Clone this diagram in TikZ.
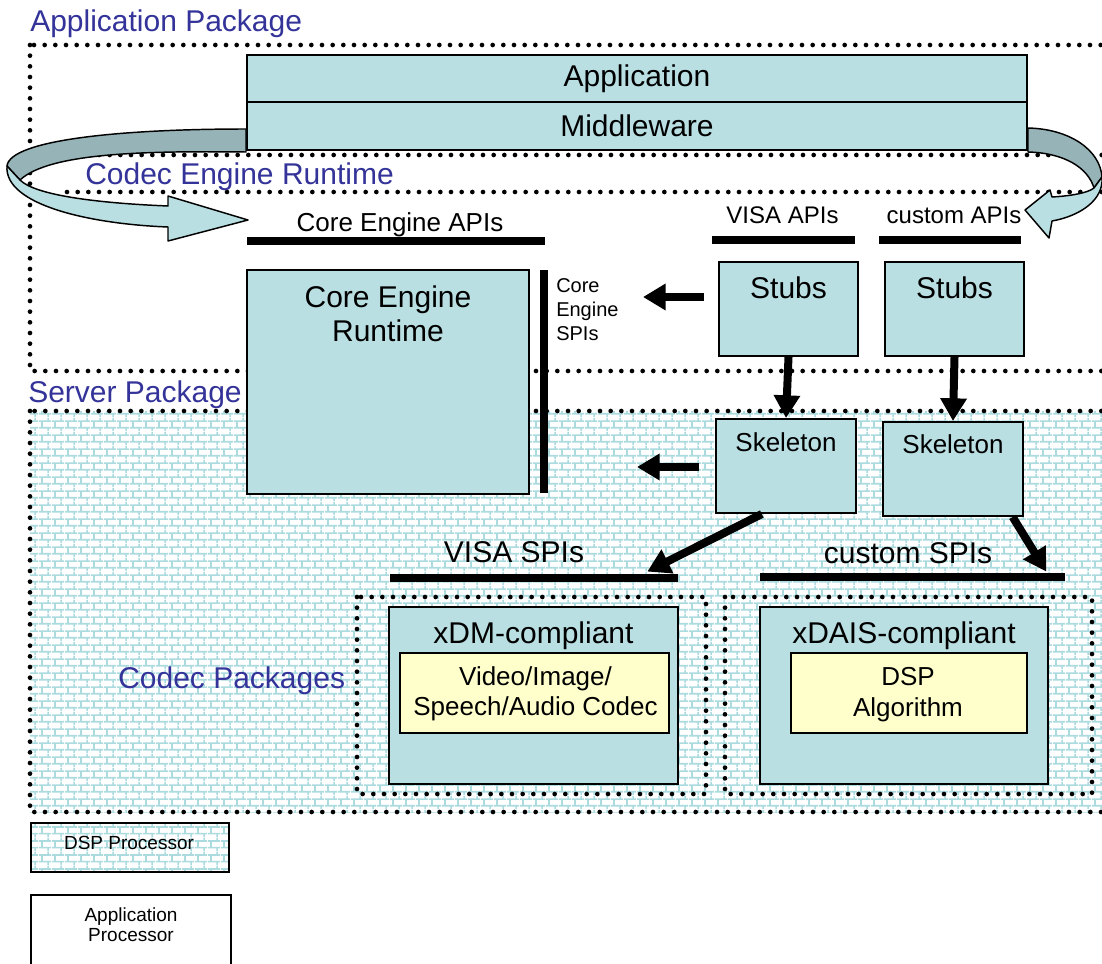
\documentclass[tikz,border=0pt]{standalone}
\usepackage{fontspec}
\setmainfont{Liberation Sans}
\usetikzlibrary{arrows.meta,calc,patterns}

% light brick wall used for the DSP side
\pgfdeclarepatternformonly{brickwall}{\pgfqpoint{0pt}{0pt}}{\pgfqpoint{9.75pt}{10.5pt}}{\pgfqpoint{9.75pt}{10.5pt}}{%
  \pgfsetlinewidth{1.3pt}%
  \pgfpathmoveto{\pgfqpoint{0pt}{2.625pt}}\pgfpathlineto{\pgfqpoint{9.75pt}{2.625pt}}%
  \pgfpathmoveto{\pgfqpoint{0pt}{7.875pt}}\pgfpathlineto{\pgfqpoint{9.75pt}{7.875pt}}%
  \pgfpathmoveto{\pgfqpoint{2.4375pt}{2.625pt}}\pgfpathlineto{\pgfqpoint{2.4375pt}{7.875pt}}%
  \pgfpathmoveto{\pgfqpoint{7.3125pt}{7.875pt}}\pgfpathlineto{\pgfqpoint{7.3125pt}{10.5pt}}%
  \pgfpathmoveto{\pgfqpoint{7.3125pt}{0pt}}\pgfpathlineto{\pgfqpoint{7.3125pt}{2.625pt}}%
  \pgfusepath{stroke}%
}

\newcommand\fsz[2]{\fontsize{#1}{#2}\selectfont}

\definecolor{boxfill}{RGB}{185,223,227}
\definecolor{ribbondark}{RGB}{150,180,184}
\definecolor{codecfill}{RGB}{255,255,204}
\definecolor{pkgblue}{RGB}{51,51,153}
\definecolor{mortar}{RGB}{172,219,223}

\tikzset{
  pkgdots/.style={line width=3.5pt, dash pattern=on 0pt off 8pt, line cap=round},
  box/.style={draw, line width=1.5pt, fill=boxfill, inner sep=0pt},
  codec/.style={draw, line width=1.5pt, fill=codecfill, inner sep=0pt},
  bar/.style={fill=black, inner sep=0pt, minimum height=5.5pt},
  vbar/.style={fill=black, inner sep=0pt, minimum width=5.5pt},
  fat/.style={line width=6pt, -{Triangle[length=17pt,width=19pt]}},
  ribbon/.style={draw, line width=1.1pt, line join=round},
  pkglabel/.style={text=pkgblue, font=\fsz{22.5pt}{26pt}, inner sep=0pt},
  big/.style={font=\fsz{22.5pt}{25.5pt}, inner sep=0pt},
  mid/.style={font=\fsz{19.5pt}{23pt}, inner sep=0pt},
  apilbl/.style={font=\fsz{18pt}{21pt}, inner sep=0pt},
  small/.style={font=\fsz{15pt}{18pt}, inner sep=0pt},
  legend/.style={font=\fsz{14.25pt}{15pt}, inner sep=0pt},
}

\begin{document}
\begin{tikzpicture}[x=0.75pt, y=-0.75pt]
\useasboundingbox (0,0) rectangle (1102,963);
\clip (0,0) rectangle (1102,963);
\fill[white] (0,0) rectangle (1102,963);

% ---- packages -------------------------------------------------------
\fill[pattern=brickwall, pattern color=mortar] (30,411) rectangle (1130,812);
\draw[pkgdots] (30,45) rectangle (1130,371);
\draw[pkgdots] (30,411) rectangle (1130,812);
\draw[pkgdots] (67,155) -- (1130,155);
\draw[pkgdots] (67,192) -- (1130,192);
\draw[pkgdots] (357,597) rectangle (706,794);
\draw[pkgdots] (725,597) rectangle (1092,794);

% ---- application layers --------------------------------------------
\node[box, big, minimum width=585pt, minimum height=35.25pt] (app) at (637,78.5) {Application};
\node[box, big, minimum width=585pt, minimum height=36pt] (mw) at (637,126) {Middleware};

% ---- codec engine runtime ------------------------------------------
\node[box, minimum width=211.5pt, minimum height=168pt] (cer) at (388,382) {};
\node[big, anchor=north, align=center] (certxt) at ($(cer.north)+(0,16)$) {Core Engine\\Runtime};

\node[bar, minimum width=223.5pt] (ceapi) at (396,241) {};
\node[bar, minimum width=107.25pt] (visaapi) at (783.5,240) {};
\node[bar, minimum width=106.5pt] (custapi) at (950,240) {};
\node[vbar, minimum height=167.25pt] (cespi) at (544,381.5) {};

\node[box, minimum width=104.25pt, minimum height=70.5pt] (stubA) at (788.5,309) {};
\node[box, minimum width=104.25pt, minimum height=70.5pt] (stubB) at (954.5,309) {};
\node[box, minimum width=105pt, minimum height=70.5pt] (skelA) at (786,466) {};
\node[box, minimum width=105pt, minimum height=70.5pt] (skelB) at (953,469) {};

\node[bar, minimum width=216pt] (visaspi) at (534,578) {};
\node[bar, minimum width=228.75pt] (custspi) at (912.5,577) {};

% ---- codecs ---------------------------------------------------------
\node[box, minimum width=216.75pt, minimum height=132.75pt] (xdm) at (533.5,695.5) {};
\node[box, minimum width=216pt, minimum height=132.75pt] (xdais) at (904,695.5) {};
\node[codec, minimum width=201.75pt, minimum height=60pt] (vid) at (534.5,693) {};
\node[codec, minimum width=177pt, minimum height=60pt] (alg) at (909,693) {};

% ---- legend ---------------------------------------------------------
\node[draw, line width=1.5pt, inner sep=0pt, pattern=brickwall, pattern color=mortar,
      minimum width=148.5pt, minimum height=36.75pt] (dspproc) at (130,847.5) {};
\node[draw, line width=1.5pt, fill=white, inner sep=0pt,
      minimum width=150pt, minimum height=60pt] (appproc) at (131,935) {};

% ---- connectors -----------------------------------------------------
\draw[fat] (stubA.south) -- (skelA.north);
\draw[fat] (stubB.south) -- (skelB.north);
\draw[fat] ($(stubA.west)+(-14,-12)$) -- ($(stubA.west)+(-75,-12)$);
\draw[fat] ($(skelA.west)+(-16,1)$) -- ($(skelA.west)+(-78,1)$);
\draw[fat] ($(skelA.south west)!0.33!(skelA.south east)$) -- ($(visaspi.north east)+(-31,-2.5)$);
\draw[fat] ($(skelB.south west)!0.92!(skelB.south east)$) -- ($(custspi.north east)+(-19,-1.5)$);

% ---- curved ribbon arrows around the middleware ----------------------
\path[ribbon, fill=ribbondark] (mw.west |- 0,129) .. controls (120,129) and (10,140) .. (7,166)
  -- (20,180) .. controls (50,152) and (150,151) .. (mw.west |- 0,152) -- cycle;
\path[ribbon, fill=boxfill] (7,166) .. controls (4,205) and (90,224) .. (168,227)
  -- (168,241) -- (248,220) -- (168,196) -- (168,206)
  .. controls (95,203) and (35,195) .. (20,180) -- cycle;

\path[ribbon, fill=ribbondark] (mw.east |- 0,128) .. controls (1070,129) and (1100,150) .. (1102,177)
  -- (1094,188) .. controls (1088,168) and (1065,153) .. (mw.east |- 0,152) -- cycle;
\path[ribbon, fill=boxfill] (1102,177) .. controls (1104,200) and (1080,216) .. (1052,221)
  -- (1049,238) -- (1025,210) -- (1050,190) -- (1052,197)
  .. controls (1070,196) and (1088,193) .. (1094,188) -- cycle;

% ---- labels ---------------------------------------------------------
\node[pkglabel, anchor=base west] (lblapp) at (30,32) {Application Package};
\node[pkglabel, anchor=base west] (lblcer) at (85,185) {Codec Engine Runtime};
\node[pkglabel, anchor=base west] (lblsrv) at (28,402) {Server Package};
\node[pkglabel, anchor=base west] (lblcodec) at (118,688) {Codec Packages};

\node[mid, anchor=base] (ceapitxt) at (400,231) {Core Engine APIs};
\node[apilbl, anchor=base] (visaapitxt) at (782.5,223) {VISA APIs};
\node[apilbl, anchor=base] (custapitxt) at (954,223) {custom APIs};
\node[small, anchor=north west, align=left] (cespitxt) at (556,278) {Core\\Engine\\SPIs};

\node[big, anchor=base] (stubAtxt) at (788.5,298) {Stubs};
\node[big, anchor=base] (stubBtxt) at (954.5,298) {Stubs};
\node[mid, anchor=base] (skelAtxt) at (786,451) {Skeleton};
\node[mid, anchor=base] (skelBtxt) at (953,453) {Skeleton};

\node[big, anchor=base] (visaspitxt) at (514,562) {VISA SPIs};
\node[big, anchor=base] (custspitxt) at (908,563) {custom SPIs};

\node[big, anchor=base] (xdmtxt) at (533.5,643) {xDM-compliant};
\node[big, anchor=base] (xdaistxt) at (904,643) {xDAIS-compliant};
\node[mid, anchor=north, align=center] (vidtxt) at (535.5,666) {Video/Image/\\Speech/Audio Codec};
\node[mid, anchor=north, align=center] (algtxt) at (908,667) {DSP\\Algorithm};

\node[legend, anchor=base] (dsptxt) at (129,849) {DSP Processor};
\node[legend, anchor=north, align=center] (apptxt) at (131,907) {Application\\Processor};
\end{tikzpicture}
\end{document}
